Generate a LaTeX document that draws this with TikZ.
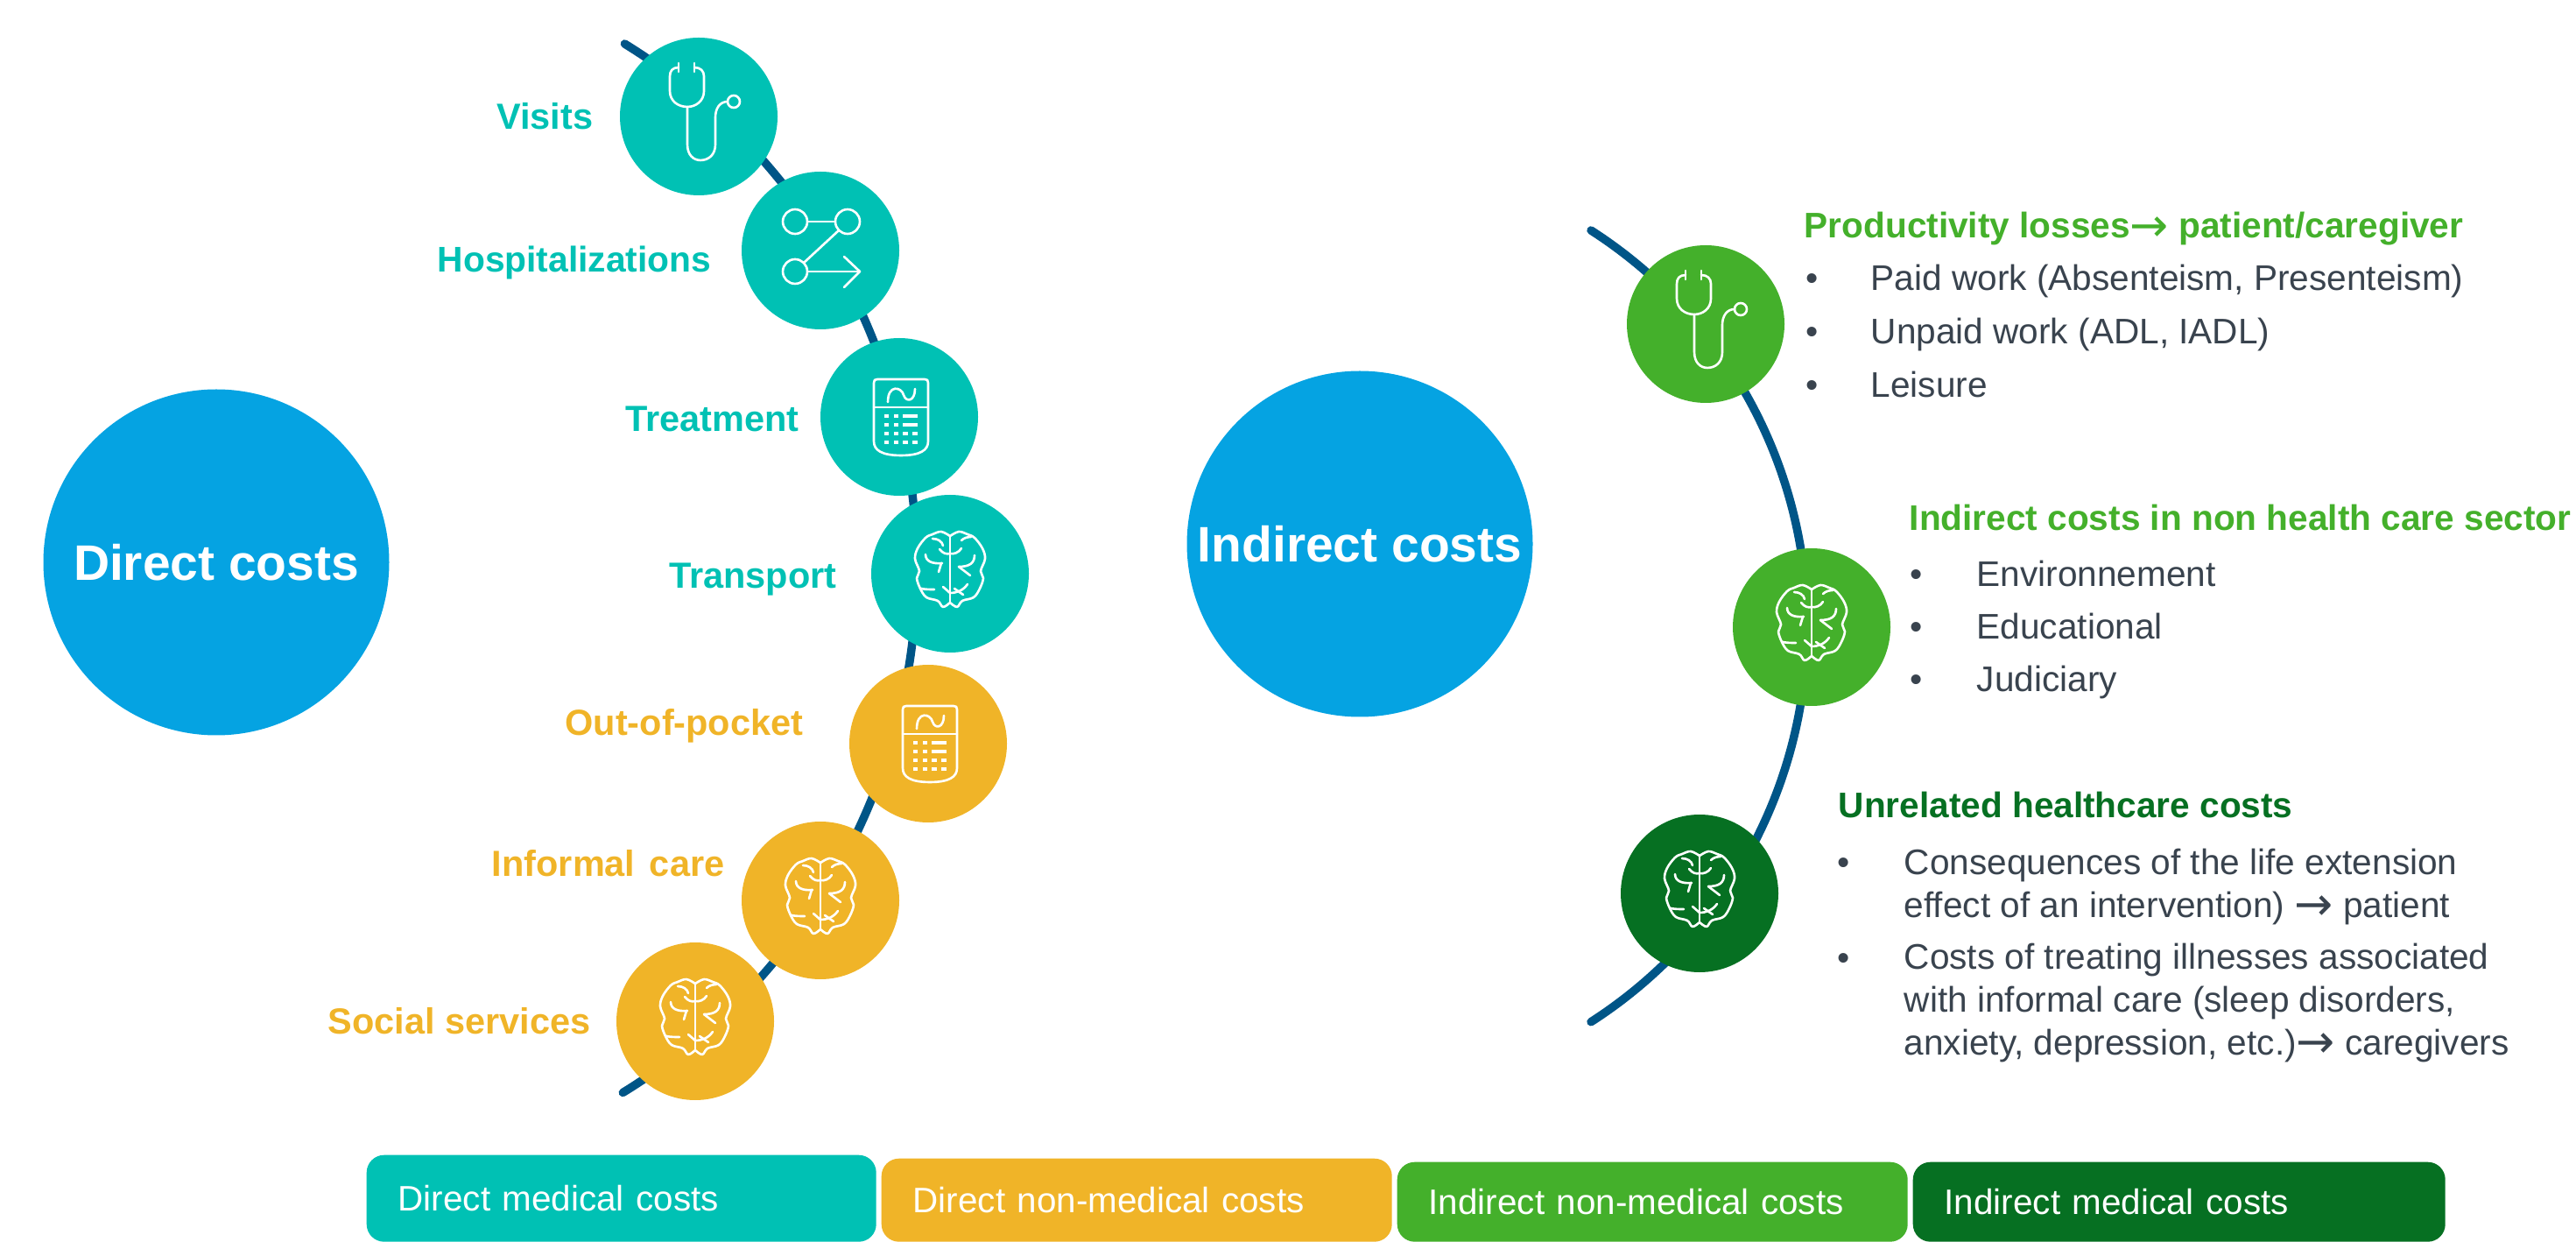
\documentclass[tikz,border=0pt]{standalone}
\usepackage{fontspec}
\setmainfont{Liberation Sans}
\newfontfamily\arrowfont{DejaVu Sans}
\definecolor{skyblue}{HTML}{05A3E2}
\definecolor{tealcost}{HTML}{00C1B4}
\definecolor{ambercost}{HTML}{F0B428}
\definecolor{greencost}{HTML}{44B02B}
\definecolor{darkcost}{HTML}{067022}
\definecolor{spineblue}{HTML}{005587}
\definecolor{bodygrey}{HTML}{39434E}
\tikzset{
	bigdot/.style={circle, fill=skyblue, minimum size=3.95cm, inner sep=0, text=white, font=\fontsize{16.2}{19}\selectfont\bfseries},
	icondot/.style={circle, minimum size=1.8cm, inner sep=0},
	spine/.style={line width=2.7pt, color=spineblue, line cap=round},
	iconline/.style={line width=0.75pt, color=white, line cap=round, line join=round},
	steplabel/.style={anchor=base east, inner sep=0, font=\fontsize{11.8}{14}\selectfont\bfseries},
	headtext/.style={anchor=base west, inner sep=0, font=\fontsize{11.55}{14}\selectfont\bfseries},
	bodytext/.style={anchor=base west, inner sep=0, align=left, text=bodygrey, font=\fontsize{11.55}{13.9}\selectfont},
	legendbox/.style={anchor=north west, rounded corners=0.2cm, inner xsep=0.36cm, inner ysep=0, minimum height=#1, text=white, align=left, font=\fontsize{11.5}{14}\selectfont},
}
\def\rarrow{\raisebox{-1pt}{\arrowfont\mdseries\fontsize{15}{15}\selectfont →}}
% icons, drawn in reference pixels round the centre of a dot
\def\iconstetho(#1){
	\begin{scope}[shift={(#1)}, x=0.01cm, y=0.01cm, iconline]
		\draw (-23,61) -- (-23,51);
		\draw (-5,61) -- (-5,51);
		\draw (-23,56) .. controls (-30,56) and (-33,52) .. (-33,46) -- (-33,29) .. controls (-33,18) and (-24,11) .. (-13,11) .. controls (-3,11) and (6,18) .. (6,29) -- (6,46) .. controls (6,52) and (2,56) .. (-5,56);
		\draw (-13,11) -- (-13,-32) .. controls (-13,-44) and (-6,-50) .. (2,-50) .. controls (11,-50) and (19,-44) .. (19,-32) -- (19,-1) .. controls (19,9) and (24,17) .. (33,17);
		\draw (40,17) circle (7);
	\end{scope}
}
\def\iconroute(#1){
	\begin{scope}[shift={(#1)}, x=0.01cm, y=0.01cm, iconline]
		\draw (-29,33) circle (14);
		\draw (31,33) circle (14);
		\draw (-29,-24) circle (14);
		\draw (-15,33) -- (17,33);
		\draw (21,23) -- (-19,-14);
		\draw (-15,-24) -- (45,-24);
		\draw (27,-7) -- (45,-24) -- (27,-42);
	\end{scope}
}
\def\iconcalc(#1){
	\begin{scope}[shift={(#1)}, x=0.01cm, y=0.01cm, iconline]
		\draw (-29,39) .. controls (-29,42) and (-28,43) .. (-25,43) -- (29,43) .. controls (32,43) and (33,42) .. (33,39) -- (33,-28) .. controls (33,-38) and (24,-44) .. (2,-44) .. controls (-20,-44) and (-29,-38) .. (-29,-28) -- cycle;
		\draw (-29,11) -- (33,11);
		\draw (-13,17) .. controls (-13,38) and (3,34) .. (5,25) .. controls (8,16) and (18,18) .. (18,32);
		\begin{scope}[line width=1.1pt, line cap=butt]
			\foreach \rowy in {1,-9,-19,-29} {
				\draw (-17,\rowy) -- (-12,\rowy);
				\draw (-6,\rowy) -- (-1,\rowy);
			}
			\foreach \rowy in {-19,-29} {
				\draw (4,\rowy) -- (10,\rowy);
				\draw (15,\rowy) -- (21,\rowy);
			}
			\foreach \rowy in {1,-9} {
				\draw (4,\rowy) -- (21,\rowy);
			}
		\end{scope}
	\end{scope}
}
\def\iconbrain(#1){
	\begin{scope}[shift={(#1)}, x=0.01cm, y=0.01cm, iconline]
		\draw (0,43) -- (0,-33);
		\foreach \sidex in {1,-1} {
			\draw[xscale=\sidex] plot[smooth, tension=0.6] coordinates {(0,43) (-10,48) (-20,45) (-28,41) (-37,29) (-40,17) (-35,3) (-38,-5) (-34,-17) (-27,-27) (-14,-31) (-8,-38) (0,-33)};
		}
		\draw (-20,40) .. controls (-14,40) and (-9,37) .. (-8,32);
		\draw (13,38) .. controls (16,41) and (20,42) .. (24,42);
		\draw (-12,28) .. controls (-8,23) and (-4,22) .. (0,23) .. controls (4,22) and (10,24) .. (13,29);
		\draw (-28,22) .. controls (-28,14) and (-20,11) .. (-9,12);
		\draw (-10,12) -- (-13,2);
		\draw (28,21) .. controls (28,12) and (22,8) .. (10,8);
		\draw (10,8) -- (23,-2);
		\draw (-33,-17) .. controls (-28,-18) and (-24,-18) .. (-18,-18);
		\draw (-8,-15) -- (0,-22);
		\draw (20,-12) .. controls (15,-19) and (8,-22) .. (0,-22);
		\draw (15,-24) -- (5,-17);
	\end{scope}
}

\begin{document}
\begin{tikzpicture}
	\useasboundingbox (0,0) rectangle (29.42,14.17);
	
	%%%%% arcs %%%%%
	\coordinate (lefttop) at (7.134,13.67);
	\coordinate (righttop) at (18.17,11.54);
	\draw[spine] (lefttop) arc (58.3:-58.5:7.03);
	\draw[spine] (righttop) arc (57.3:-57.3:5.37);
	
	%%%%% big dots %%%%%
	\node[bigdot] (directdot) at (2.47,7.75) {Direct costs};
	\node[bigdot] (indirectdot) at (15.53,7.96) {Indirect costs\hspace{0.17cm}};
	
	%%%%% direct dots %%%%%
	\node[icondot, fill=tealcost] (visitsdot) at (7.98,12.84) {};
	\node[icondot, fill=tealcost] (hospdot) at (9.37,11.31) {};
	\node[icondot, fill=tealcost] (treatdot) at (10.27,9.41) {};
	\node[icondot, fill=tealcost] (transportdot) at (10.85,7.62) {};
	\node[icondot, fill=ambercost] (pocketdot) at (10.60,5.68) {};
	\node[icondot, fill=ambercost] (informaldot) at (9.37,3.89) {};
	\node[icondot, fill=ambercost] (socialdot) at (7.94,2.51) {};
	
	\iconstetho(visitsdot)
	\iconroute(hospdot)
	\iconcalc(treatdot)
	\iconbrain(transportdot)
	\iconcalc(pocketdot)
	\iconbrain(informaldot)
	\iconbrain(socialdot)
	
	\node[steplabel, text=tealcost] (visitslabel) at (6.78,12.69) {Visits};
	\node[steplabel, text=tealcost, font=\fontsize{11.6}{14}\selectfont\bfseries] (hosplabel) at (8.13,11.06) {Hospitalizations};
	\node[steplabel, text=tealcost] (treatlabel) at (9.13,9.24) {Treatment};
	\node[steplabel, text=tealcost] (transportlabel) at (9.56,7.45) {Transport};
	\node[steplabel, text=ambercost] (pocketlabel) at (9.18,5.77) {Out-of-pocket};
	\node[steplabel, text=ambercost] (informallabel) at (8.28,4.17) {Informal\hspace{0.12em} care};
	\node[steplabel, text=ambercost] (sociallabel) at (6.75,2.37) {Social services};
	
	%%%%% indirect dots %%%%%
	\node[icondot, fill=greencost] (lossdot) at (19.48,10.47) {};
	\node[icondot, fill=greencost] (sectordot) at (20.69,7.01) {};
	\node[icondot, fill=darkcost] (unrelateddot) at (19.41,3.97) {};
	
	\iconstetho(lossdot)
	\iconbrain(sectordot)
	\iconbrain(unrelateddot)
	
	\node[headtext, text=greencost] (losshead) at (20.60,11.45) {Productivity losses\rarrow{} patient/caregiver};
	\node[bodytext] (paidbullet) at (20.62,10.85) {•};
	\node[bodytext] (paidtext) at (21.36,10.85) {Paid work (Absenteism, Presenteism)};
	\node[bodytext] (unpaidbullet) at (20.62,10.24) {•};
	\node[bodytext] (unpaidtext) at (21.36,10.24) {Unpaid work (ADL, IADL)};
	\node[bodytext] (leisurebullet) at (20.62,9.63) {•};
	\node[bodytext] (leisuretext) at (21.36,9.63) {Leisure};
	
	\node[headtext, text=greencost] (sectorhead) at (21.80,8.11) {Indirect costs in non health care sector};
	\node[bodytext] (envbullet) at (21.81,7.47) {•};
	\node[bodytext] (envtext) at (22.57,7.47) {Environnement};
	\node[bodytext] (edubullet) at (21.81,6.87) {•};
	\node[bodytext] (edutext) at (22.57,6.87) {Educational};
	\node[bodytext] (judbullet) at (21.81,6.27) {•};
	\node[bodytext] (judtext) at (22.57,6.27) {Judiciary};
	
	\node[headtext, text=darkcost] (unrelatedhead) at (20.99,4.83) {Unrelated healthcare costs};
	\node[bodytext] (lifebullet) at (20.98,4.19) {•};
	\node[bodytext] (lifetext) at (21.74,3.70) {Consequences of the life extension\\effect of an intervention) \rarrow{} patient};
	\node[bodytext] (carebullet) at (20.98,3.10) {•};
	\node[bodytext] (caretext) at (21.74,2.13) {Costs of treating illnesses associated\\with informal care (sleep disorders,\\anxiety, depression, etc.)\rarrow{} caregivers};
	
	%%%%% legend %%%%%
	\node[legendbox=0.99cm, fill=tealcost, text width=5.10cm] (medicalkey) at (4.18,0.99) {Direct medical costs};
	\node[legendbox=0.95cm, fill=ambercost, text width=5.11cm] (nonmedicalkey) at (10.06,0.95) {Direct non-medical costs};
	\node[legendbox=0.91cm, fill=greencost, text width=5.11cm] (indirectkey) at (15.95,0.91) {Indirect non-medical costs};
	\node[legendbox=0.91cm, fill=darkcost, text width=5.36cm] (indirectmedkey) at (21.84,0.91) {Indirect medical costs};
\end{tikzpicture}
\end{document}
